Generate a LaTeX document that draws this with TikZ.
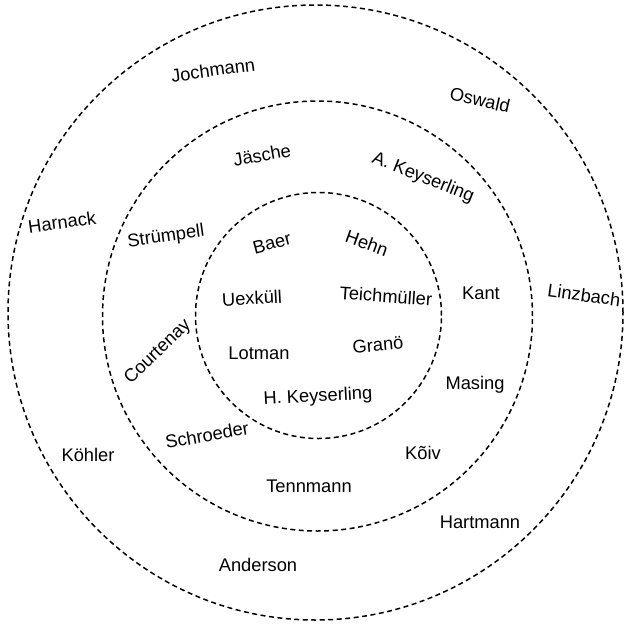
\documentclass[tikz,border=0pt]{standalone}
\usepackage{fontspec}
\setmainfont{Liberation Sans}
\begin{document}
\begin{tikzpicture}[x=1pt,y=-1pt,
  ring/.style={draw=black,line width=1.5pt,dash pattern=on 5pt off 3.5pt},
  nm/.style={font=\fontsize{18.3}{22}\selectfont,inner sep=0pt}]
\useasboundingbox (0,0) rectangle (624,630);
% rings
\draw[ring] (315.5,312.5) circle[radius=307.5pt];
\draw[ring] (317.5,316) circle[radius=215pt];
\draw[ring] (318.5,315.5) circle[radius=123pt];
% outer ring names
\node[nm,rotate=8] (jochmann) at (213,70) {Jochmann};
\node[nm,rotate=-13] (oswald) at (480,100) {Oswald};
\node[nm,rotate=8] (harnack) at (62,222) {Harnack};
\node[nm,rotate=-8] (linzbach) at (584,295) {Linzbach};
\node[nm] (kohler) at (88,455) {Köhler};
\node[nm] (hartmann) at (480,522) {Hartmann};
\node[nm] (anderson) at (258,565) {Anderson};
% middle ring names
\node[nm,rotate=10] (jasche) at (262,155) {Jäsche};
\node[nm,rotate=-22] (akeyserling) at (423,178) {A. Keyserling};
\node[nm,rotate=8] (strumpell) at (166,237) {Strümpell};
\node[nm] (kant) at (481,293) {Kant};
\node[nm,rotate=44] (courtenay) at (158,352) {Courtenay};
\node[nm] (masing) at (475,385) {Masing};
\node[nm,rotate=10] (schroeder) at (207,435) {Schroeder};
\node[nm] (koiv) at (423,453) {Kõiv};
\node[nm] (tennmann) at (309,486) {Tennmann};
% inner ring names
\node[nm,rotate=15] (baer) at (272,243) {Baer};
\node[nm,rotate=-20] (hehn) at (367,243) {Hehn};
\node[nm,rotate=3] (uexkull) at (252,298) {Uexküll};
\node[nm,rotate=-4] (teichmuller) at (386,296) {Teichmüller};
\node[nm] (lotman) at (259,353) {Lotman};
\node[nm,rotate=5] (grano) at (378,345) {Granö};
\node[nm,rotate=3] (hkeyserling) at (318,397) {H. Keyserling};
\end{tikzpicture}
\end{document}
